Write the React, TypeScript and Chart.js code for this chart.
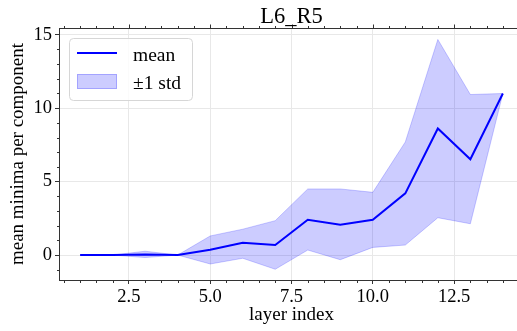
import React, { useEffect, useRef } from "react";
import { Chart, registerables } from "chart.js";

Chart.register(...registerables);

const TITLE = "L6_R5";
const X_LABEL = "layer index";
const Y_LABEL = "mean minima per component";
const LEGEND_LABELS = ["mean", "±1 std"];

const layers = [1, 2, 3, 4, 5, 6, 7, 8, 9, 10, 11, 12, 13, 14];
const meanValues = [0, 0, 0.03, 0, 0.36, 0.83, 0.68, 2.4, 2.07, 2.4, 4.2, 8.62, 6.52, 11.0];
const upperValues = [0, 0, 0.26, 0, 1.3, 1.76, 2.34, 4.5, 4.5, 4.27, 7.7, 14.68, 10.93, 11.0];
const lowerValues = [0, 0, -0.17, 0, -0.61, -0.22, -0.97, 0.34, -0.32, 0.52, 0.68, 2.54, 2.13, 11.0];

const xTicks = [2.5, 5, 7.5, 10, 12.5];
const yTicks = [0, 5, 10, 15];
const X_MIN = 0.35;
const X_MAX = 14.65;
const Y_MIN = -1.7;
const Y_MAX = 15.46;
const X_MINOR = 0.5;
const Y_MINOR = 1;

const FONT = '"Liberation Serif", "Times New Roman", serif';
const SPINE = "#333333";
const GRID = "#e8e8e8";
const BLUE = "#0000ff";
const BAND = "rgba(0,0,255,0.2)";

const decorPlugin = {
  id: "decor",
  afterDraw(chart: any) {
    const { ctx, chartArea: ca, scales } = chart;
    const xs = scales.x;
    const ys = scales.y;
    const seg = (x1: number, y1: number, x2: number, y2: number) => {
      ctx.beginPath();
      ctx.moveTo(x1, y1);
      ctx.lineTo(x2, y2);
      ctx.stroke();
    };
    ctx.save();
    ctx.strokeStyle = SPINE;
    ctx.lineWidth = 1;
    const top = Math.round(ca.top) + 0.5;
    const right = Math.round(ca.right) + 0.5;
    const bottom = Math.round(ca.bottom) + 0.5;
    const left = Math.round(ca.left) + 0.5;
    seg(ca.left, top, ca.right, top);
    seg(right, ca.top, right, ca.bottom);
    // top major ticks
    xTicks.forEach((v) => {
      const px = Math.round(xs.getPixelForValue(v)) + 0.5;
      seg(px, top, px, top - 4);
    });
    // minor x ticks
    for (let i = Math.ceil(X_MIN / X_MINOR); i * X_MINOR <= X_MAX; i++) {
      const v = i * X_MINOR;
      if (xTicks.some((t) => Math.abs(t - v) < 1e-6)) continue;
      const px = Math.round(xs.getPixelForValue(v)) + 0.5;
      seg(px, bottom, px, bottom + 2.5);
      seg(px, top, px, top - 2.5);
    }
    // minor y ticks
    for (let i = Math.ceil(Y_MIN / Y_MINOR); i * Y_MINOR <= Y_MAX; i++) {
      const v = i * Y_MINOR;
      if (yTicks.some((t) => Math.abs(t - v) < 1e-6)) continue;
      const py = Math.round(ys.getPixelForValue(v)) + 0.5;
      seg(left, py, left - 2.5, py);
      seg(right, py, right + 2.5, py);
    }
    // title
    ctx.fillStyle = "#000";
    ctx.font = `22.5px ${FONT}`;
    ctx.textAlign = "center";
    ctx.textBaseline = "alphabetic";
    ctx.fillText(TITLE, (ca.left + ca.right) / 2, 23);

    // legend
    const lx = 69.5, ly = 38.5, lw = 123, lh = 62, r = 4;
    ctx.beginPath();
    ctx.moveTo(lx + r, ly);
    ctx.lineTo(lx + lw - r, ly);
    ctx.quadraticCurveTo(lx + lw, ly, lx + lw, ly + r);
    ctx.lineTo(lx + lw, ly + lh - r);
    ctx.quadraticCurveTo(lx + lw, ly + lh, lx + lw - r, ly + lh);
    ctx.lineTo(lx + r, ly + lh);
    ctx.quadraticCurveTo(lx, ly + lh, lx, ly + lh - r);
    ctx.lineTo(lx, ly + r);
    ctx.quadraticCurveTo(lx, ly, lx + r, ly);
    ctx.closePath();
    ctx.fillStyle = "rgba(255,255,255,0.8)";
    ctx.fill();
    ctx.strokeStyle = "#d6d6d6";
    ctx.lineWidth = 1;
    ctx.stroke();

    ctx.strokeStyle = BLUE;
    ctx.lineWidth = 2;
    seg(77, 53, 117, 53);
    ctx.fillStyle = BAND;
    ctx.fillRect(77, 74, 40, 15);
    ctx.strokeStyle = BAND;
    ctx.lineWidth = 1;
    ctx.strokeRect(77.5, 74.5, 39, 14);

    ctx.fillStyle = "#000";
    ctx.font = `19.5px ${FONT}`;
    ctx.textAlign = "left";
    ctx.fillText(LEGEND_LABELS[0], 133, 61);
    ctx.fillText(LEGEND_LABELS[1], 133, 88.5);
    ctx.restore();
  },
};

export default function App() {
  const ref = useRef<HTMLCanvasElement | null>(null);
  useEffect(() => {
    if (!ref.current) return;
    const pts = (vals: number[]) => layers.map((x, i) => ({ x, y: vals[i] }));
    const chart = new Chart(ref.current, {
      type: "line",
      data: {
        datasets: [
          {
            label: LEGEND_LABELS[0],
            data: pts(meanValues),
            borderColor: BLUE,
            borderWidth: 2,
            pointRadius: 0,
            fill: false,
            tension: 0,
          },
          {
            label: "upper",
            data: pts(upperValues),
            borderColor: BAND,
            borderWidth: 1,
            pointRadius: 0,
            fill: false,
            tension: 0,
          },
          {
            label: LEGEND_LABELS[1],
            data: pts(lowerValues),
            borderColor: BAND,
            backgroundColor: BAND,
            borderWidth: 1,
            pointRadius: 0,
            fill: "-1",
            tension: 0,
          },
        ],
      },
      options: {
        responsive: false,
        maintainAspectRatio: false,
        devicePixelRatio: 1,
        animation: false,
        layout: { padding: { top: 28, right: 16, left: 0, bottom: 0 } },
        plugins: {
          legend: { display: false },
          title: { display: false },
          tooltip: { enabled: false },
        },
        scales: {
          x: {
            type: "linear",
            min: X_MIN,
            max: X_MAX,
            afterBuildTicks: (s: any) => {
              s.ticks = xTicks.map((v) => ({ value: v }));
            },
            afterFit: (s: any) => {
              s.height = 51;
            },
            ticks: {
              callback: (v: any) => Number(v).toFixed(1),
              font: { family: FONT, size: 18.5 },
              color: "#000",
              padding: 2,
              maxRotation: 0,
              autoSkip: false,
            },
            grid: { color: GRID, lineWidth: 1, drawTicks: true, tickLength: 4, tickColor: SPINE, tickWidth: 1 },
            border: { display: true, color: SPINE, width: 1 },
            title: {
              display: true,
              text: X_LABEL,
              font: { family: FONT, size: 19 },
              color: "#000",
              padding: { top: 0, bottom: 5 },
            },
          },
          y: {
            type: "linear",
            min: Y_MIN,
            max: Y_MAX,
            afterBuildTicks: (s: any) => {
              s.ticks = yTicks.map((v) => ({ value: v }));
            },
            afterFit: (s: any) => {
              s.width = 59;
            },
            ticks: {
              callback: (v: any) => String(v),
              font: { family: FONT, size: 18.5 },
              color: "#000",
              padding: 3,
            },
            grid: { color: GRID, lineWidth: 1, drawTicks: true, tickLength: 4, tickColor: SPINE, tickWidth: 1 },
            border: { display: true, color: SPINE, width: 1 },
            title: {
              display: true,
              text: Y_LABEL,
              font: { family: FONT, size: 19 },
              color: "#000",
              padding: { top: 7, bottom: 0 },
            },
          },
        },
      },
      plugins: [decorPlugin],
    });
    return () => chart.destroy();
  }, []);

  return (
    <div
      style={{
        position: "fixed",
        left: 0,
        top: 0,
        width: 517,
        height: 331,
        overflow: "hidden",
        background: "#fff",
      }}
    >
      <canvas ref={ref} width={540} height={331} style={{ display: "block", width: 540, height: 331 }} />
    </div>
  );
}
